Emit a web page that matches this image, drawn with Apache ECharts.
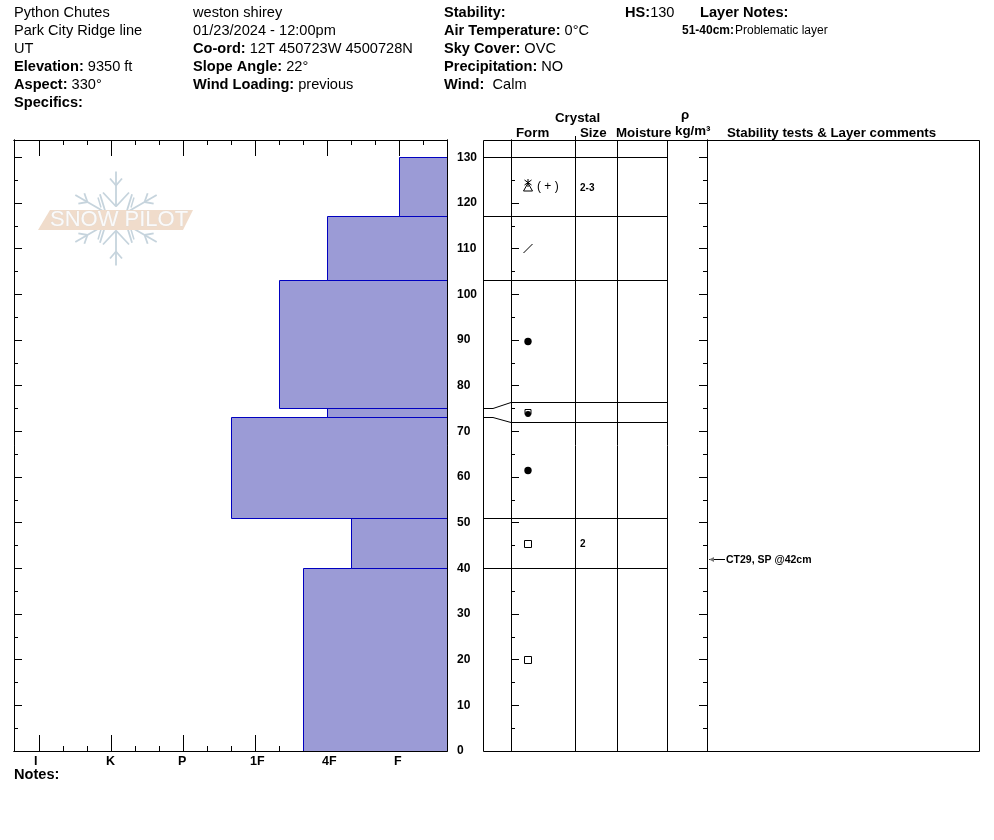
<!DOCTYPE html>
<html><head><meta charset="utf-8">
<style>html,body{margin:0;padding:0;background:#fff}#c{width:994px;height:840px}</style>
<script src="https://cdn.jsdelivr.net/npm/echarts@6/dist/echarts.min.js"></script>
</head><body><div id="c"></div>
<script>
const hardnessLabels = ['I','K','P','1F','4F','F'];
const layerBottoms = [0,40,51,73,75,103,117];
const layerTops = [40,51,73,75,103,117,130];
const layerHardness = [3.667,4.333,2.667,4,3.333,4,5];
const boundaryTrue = [130,117,103,75,73,51,40];
const boundaryShown = [130,117,103,76.4,72,51,40];
const formDepths = [123.7,110.2,89.8,74,61.5,45.4,20];
const formCodes = ['hoar','slash','round','squareRound','round','square','square'];
const formSuffix = ['( + )','','','','','',''];
const sizeDepths = [123.3,45.2];
const sizeLabels = ['2-3','2'];
const testDepths = [42];
const testLabels = ['CT29, SP @42cm'];
const depthMajor = [0,10,20,30,40,50,60,70,80,90,100,110,120,130];
const depthMinor = [5,15,25,35,45,55,65,75,85,95,105,115,125];
const depthMax = 133.8;
const hMajor = [0,1,2,3,4,5];
const hMinor = [1/3,2/3,4/3,5/3,7/3,8/3,10/3,11/3,13/3,14/3,16/3];

const L=14,R=447,T=140,B=751,PL=483,PR=979,C1=511,C2=575,C3=617,C4=667,C5=707;
const black='#000';
const font='Arial, "Liberation Sans", sans-serif';

function hAxis(pos,vals,len,labels){return {gridIndex:0,type:'value',position:pos,min:-0.347,max:5.667,
  axisLine:{show:true,onZero:false,lineStyle:{color:black,width:1}},splitLine:{show:false},
  axisTick:{show:true,inside:true,length:len,lineStyle:{color:black,width:1},customValues:vals},
  axisLabel:labels?{show:true,customValues:vals.map(v=>v-5/72),align:'left',margin:4,color:black,fontFamily:font,fontWeight:'bold',fontSize:12.5,
    formatter:v=>hardnessLabels[Math.round(v)]}:{show:false}};}
function dAxis(grid,pos,vals,len,labels){return {gridIndex:grid,type:'value',position:pos,min:0,max:depthMax,
  axisLine:{show:true,onZero:false,lineStyle:{color:black,width:1}},splitLine:{show:false},
  axisTick:{show:true,inside:true,length:len,lineStyle:{color:black,width:1},customValues:vals},
  axisLabel:labels?{show:true,customValues:vals,margin:10,align:'left',color:black,fontFamily:font,fontWeight:'bold',fontSize:12,formatter:v=>String(v)}:{show:false}};}

const blackLine={stroke:black,lineWidth:1,fill:null};
function crisp(v){return Math.floor(v)+0.5;}

const HS=14.6;
function txt(x,y,t){return {type:'text',x:x,y:y+1,silent:true,
  style:{text:t,font:HS+'px '+font,fill:black,verticalAlign:'middle',
   rich:{b:{fontWeight:'bold',fontSize:HS,fontFamily:font,fill:black},n:{fontSize:HS,fontFamily:font,fill:black}}}};}
const hdr=[
 [14,12,'{n|Python Chutes}'],[14,30,'{n|Park City Ridge line}'],[14,48,'{n|UT}'],
 [14,66,'{b|Elevation:} {n|9350 ft}'],[14,84,'{b|Aspect:} {n|330°}'],[14,102,'{b|Specifics:}'],
 [193,12,'{n|weston shirey}'],[193,30,'{n|01/23/2024 - 12:00pm}'],[193,48,'{b|Co-ord:} {n|12T 450723W 4500728N}'],
 [193,66,'{b|Slope Angle:} {n|22°}'],[193,84,'{b|Wind Loading:} {n|previous}'],
 [444,12,'{b|Stability:}'],[444,30,'{b|Air Temperature:} {n|0°C}'],[444,48,'{b|Sky Cover:} {n|OVC}'],
 [444,66,'{b|Precipitation:} {n|NO}'],[444,84,'{b|Wind:}  {n|Calm}'],
 [625,12,'{b|HS:}{n|130}'],[700,12,'{b|Layer Notes:}'],[14,774,'{b|Notes:}']
].map(h=>txt(h[0],h[1],h[2]));
const small=[
 {type:'text',x:682,y:31,silent:true,style:{text:'51-40cm:',font:'bold 12px '+font,fill:black,verticalAlign:'middle'}},
 {type:'text',x:735,y:31,silent:true,style:{text:'Problematic layer',font:'12px '+font,fill:black,verticalAlign:'middle'}},
 ...[[555,118,'Crystal'],[516,133,'Form'],[580,133,'Size'],[616,133,'Moisture'],[681,115,'ρ'],[675,131.5,'kg/m³'],[727,133,'Stability tests & Layer comments']]
  .map(a=>({type:'text',x:a[0],y:a[1],silent:true,style:{text:a[2],font:'bold 13.3px '+font,fill:black,verticalAlign:'middle'}}))
];
function vline(x,y1,y2){return {type:'line',silent:true,z:3,shape:{x1:x+.5,y1:y1,x2:x+.5,y2:y2},style:blackLine};}
const frame=[
 {type:'rect',silent:true,z:3,shape:{x:PL+.5,y:T+.5,width:PR-PL,height:B-T},style:{fill:null,stroke:black,lineWidth:1}},
 vline(C2,T,B),vline(C3,T,B),vline(C4,T,B),vline(C5,T,B),vline(C1,T,B),vline(C2,136,T)
];
// logo
const flake=[];
const fc='#c6d4dd';
const cx=116,cy=218.5;
[90,30,150,210,270,330].forEach(a=>{
  const r=a*Math.PI/180,ux=Math.cos(r),uy=-Math.sin(r),vx=-uy,vy=ux;
  const p=(s,t)=>[cx+ux*s+vx*t,cy+uy*s+vy*t];
  const seg=(A,B)=>flake.push({type:'line',silent:true,z:1,shape:{x1:A[0],y1:A[1],x2:B[0],y2:B[1]},style:{stroke:fc,lineWidth:1.8}});
  seg(p(12,0),p(47,0));
  [[12,13,14],[33,6,7]].forEach(b=>{seg(p(b[0],0),p(b[0]+b[2],b[1]));seg(p(b[0],0),p(b[0]+b[2],-b[1]));});
});
[[-18,-21,-15,-11],[18,-21,15,-11],[-18,21,-15,11],[18,21,15,11]].forEach(d=>flake.push({type:'line',silent:true,z:1,shape:{x1:cx+d[0],y1:cy+d[1],x2:cx+d[2],y2:cy+d[3]},style:{stroke:fc,lineWidth:1.5}}));
const logo=[...flake,
 {type:'polygon',silent:true,z:1,shape:{points:[[38,230],[50,210],[193,210],[183,230]]},style:{fill:'#f0dccb'}},
 {type:'text',silent:true,z:2,x:50,y:220,style:{text:'SNOW PILOT',font:'22px '+font,fill:'#fafafa',stroke:'#d9d9d9',lineWidth:.4,verticalAlign:'middle'}}
];

function renderLayer(p,api){
  const x=api.coord([api.value(0),0])[0];
  const yb=Math.floor(api.coord([0,api.value(1)])[1]), yt=Math.floor(api.coord([0,api.value(2)])[1]);
  const xr=p.coordSys.x+p.coordSys.width;
  return {type:'rect',shape:{x:Math.round(x)+.5,y:yt+.5,width:xr-Math.round(x),height:yb-yt},
    style:{fill:'#9b9bd6',stroke:'#0000c0',lineWidth:1}};
}
function renderBoundary(p,api){
  const yT=crisp(api.coord([0,api.value(0)])[1]), yS=crisp(api.coord([0,api.value(1)])[1]);
  return {type:'polyline',shape:{points:[[PL,yT],[493,yT],[C1,yS],[C4,yS]]},style:blackLine};
}
function renderForm(p,api){
  const i=api.value(0), y=Math.round(api.coord([0,api.value(1)])[1]), x=528, code=formCodes[i];
  const ch=[];
  const ln=(a,b,c,d)=>ch.push({type:'line',shape:{x1:a,y1:b,x2:c,y2:d},style:blackLine});
  if(code==='round') ch.push({type:'circle',shape:{cx:0,cy:.5,r:3.7},style:{fill:black}});
  if(code==='square') ch.push({type:'rect',shape:{x:-3.5,y:-3.5,width:7,height:7},style:{fill:'#fff',stroke:black,lineWidth:1}});
  if(code==='squareRound'){ch.push({type:'rect',shape:{x:-3,y:-3.5,width:6,height:5},style:{fill:'#fff',stroke:black,lineWidth:1}});
    ch.push({type:'circle',shape:{cx:0,cy:1,r:3},style:{fill:black}});}
  if(code==='slash') ln(-4.5,5,4.5,-4);
  if(code==='hoar'){ch.push({type:'polygon',shape:{points:[[0,-3],[4.5,5],[-4.5,5]]},style:{fill:null,stroke:black,lineWidth:1}});
    ln(0,-7,0,1);ln(-3.5,-6,3.5,-1);ln(3.5,-6,-3.5,-1);}
  if(formSuffix[i]) ch.push({type:'text',x:9,y:.5,style:{text:formSuffix[i],font:'12px '+font,fill:black,verticalAlign:'middle'}});
  return {type:'group',x:x,y:y,children:ch};
}
function renderSize(p,api){
  const i=api.value(0), y=api.coord([0,api.value(1)])[1];
  return {type:'text',x:C2+5,y:y,style:{text:sizeLabels[i],font:'bold 10px '+font,fill:black,verticalAlign:'middle'}};
}
function renderTest(p,api){
  const i=api.value(0), y=crisp(api.coord([0,api.value(1)])[1]);
  return {type:'group',children:[
    {type:'line',shape:{x1:709,y1:y,x2:725,y2:y},style:blackLine},
    {type:'polygon',shape:{points:[[709,y],[714,y-2.5],[714,y+2.5]]},style:{fill:'#777'}},
    {type:'text',x:726,y:y+.5,style:{text:testLabels[i],font:'bold 10.5px '+font,fill:black,verticalAlign:'middle'}}
  ]};
}
const chart=echarts.init(document.getElementById('c'),null,{renderer:'canvas',width:994,height:840});
chart.setOption({
 animation:false,backgroundColor:'#fff',
 grid:[{left:L,top:T,width:R-L,height:B-T,containLabel:false},{left:C1,top:T,width:C5-C1,height:B-T,containLabel:false}],
 xAxis:[hAxis('bottom',hMajor,16,true),hAxis('bottom',hMinor,5,false),hAxis('top',hMajor,16,false),hAxis('top',hMinor,5,false),
  {gridIndex:1,type:'value',min:0,max:1,show:false}],
 yAxis:[dAxis(0,'left',depthMajor,8),dAxis(0,'left',depthMinor,4),dAxis(0,'right',depthMajor,8,true),dAxis(0,'right',depthMinor,4),
  dAxis(1,'left',depthMajor,8),dAxis(1,'left',depthMinor,4),dAxis(1,'right',depthMajor,8),dAxis(1,'right',depthMinor,4)],
 series:[
  {type:'custom',name:'Hardness',xAxisIndex:0,yAxisIndex:0,clip:true,silent:true,z:2,renderItem:renderLayer,
   data:layerHardness.map((h,i)=>[h,layerBottoms[i],layerTops[i]])},
  {type:'custom',name:'Boundaries',xAxisIndex:4,yAxisIndex:4,clip:false,silent:true,renderItem:renderBoundary,
   encode:{x:[],y:[0,1]},data:boundaryTrue.map((d,i)=>[d,boundaryShown[i]])},
  {type:'custom',name:'Forms',xAxisIndex:4,yAxisIndex:4,clip:false,silent:true,renderItem:renderForm,
   encode:{x:[],y:1},data:formDepths.map((d,i)=>[i,d])},
  {type:'custom',name:'Sizes',xAxisIndex:4,yAxisIndex:4,clip:false,silent:true,renderItem:renderSize,
   encode:{x:[],y:1},data:sizeDepths.map((d,i)=>[i,d])},
  {type:'custom',name:'Tests',xAxisIndex:4,yAxisIndex:4,clip:false,silent:true,renderItem:renderTest,
   encode:{x:[],y:1},data:testDepths.map((d,i)=>[i,d])}
 ],
 graphic:{elements:[...logo,...hdr,...small,...frame]}
});
</script></body></html>
